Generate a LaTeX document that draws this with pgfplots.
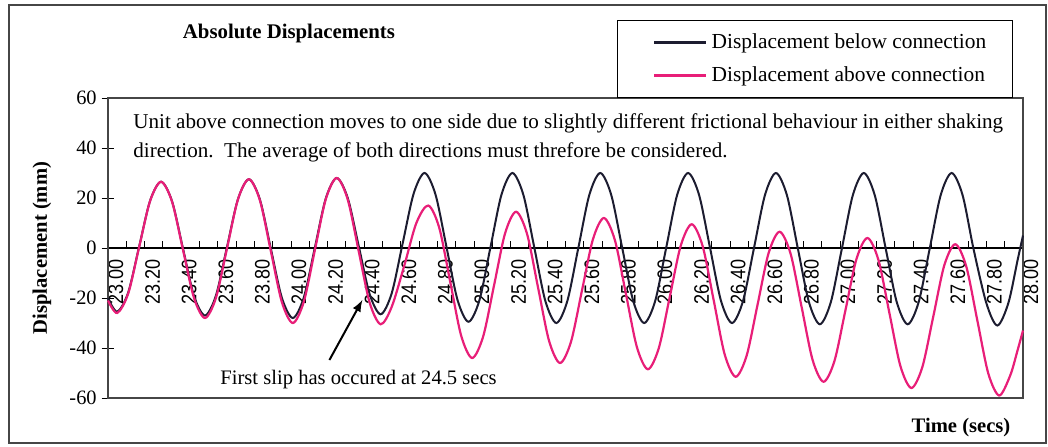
\documentclass[border=0pt]{standalone}
\usepackage{fontspec}
\setmainfont{Liberation Serif}
\newfontfamily\narrowsans[FakeStretch=0.86]{Liberation Sans}
\usepackage{pgfplots}
\pgfplotsset{compat=1.18}
\definecolor{belowc}{RGB}{28,28,48}
\definecolor{abovec}{RGB}{232,30,120}
\definecolor{framec}{RGB}{70,70,70}

\begin{document}
\begin{tikzpicture}
\useasboundingbox (-54pt,-24pt) rectangle (470pt,199pt);
\draw[framec, line width=0.7pt] (-49.5pt,-22.5pt) rectangle (469pt,196.5pt);
\begin{axis}[
  at={(0,0)}, anchor=south west,
  scale only axis, width=457.5pt, height=150pt,
  xmin=23, xmax=28, ymin=-60, ymax=60,
  axis x line=middle, axis y line=left,
  hide obscured x ticks=false,
  axis line style={-, black, line width=0.6pt},
  xtick={23,23.2,...,28.1},
  minor xtick={23.1,23.3,...,28},
  xtick style={black, line width=0.5pt, yshift=1.75pt,
    /pgfplots/major tick length=3.5pt, /pgfplots/minor tick length=3.5pt},
  xticklabel style={rotate=90, anchor=east, font=\narrowsans\fontsize{10.5}{12}\selectfont, yshift=-4pt,
    /pgf/number format/.cd, fixed, fixed zerofill, precision=2},
  ytick={-60,-40,...,60},
  ytick style={black, line width=0.5pt, /pgfplots/major tick length=6.5pt},
  yticklabel style={font=\fontsize{10.2}{12}\selectfont},
  y tick label style={/pgf/number format/assume math mode=true},
  x tick label style={/pgf/number format/assume math mode=true},
  tick align=center,
  clip=false,
  legend style={at={(axis description cs:0.556,1.26)}, anchor=north west,
    draw=black, line width=0.6pt, font=\fontsize{10.7}{12}\selectfont,
    inner xsep=11pt, inner ysep=4.5pt, row sep=3.5pt, cells={anchor=west}},
  legend image code/.code={\path (0pt,0pt); \draw[#1, line width=1.2pt] (7pt,0pt) -- (33pt,0pt);},
]
\draw[framec, line width=0.7pt] (rel axis cs:0,0) rectangle (rel axis cs:1,1);

% displacement measured below the connection
\addplot[belowc, line width=1pt, smooth] coordinates {
(23.00,-20) (23.05,-25.5) (23.11,-17.9) (23.17,0.5) (23.23,18.9) (23.29,26.5)
(23.35,18.7) (23.41,-0.3) (23.47,-19.2) (23.53,-27) (23.59,-19.0) (23.65,0.3)
(23.71,19.5) (23.77,27.5) (23.83,19.4) (23.89,-0.3) (23.95,-19.9) (24.01,-28)
(24.07,-19.8) (24.13,0) (24.19,19.8) (24.25,28) (24.31,20.0) (24.37,0.8)
(24.43,-18.5) (24.49,-26.5) (24.55,-18.2) (24.61,1.8) (24.67,21.7) (24.73,30)
(24.79,21.3) (24.85,0.3) (24.91,-20.8) (24.97,-29.5) (25.03,-20.8) (25.09,0.3)
(25.15,21.3) (25.21,30) (25.27,21.2) (25.33,0) (25.39,-21.2) (25.45,-30)
(25.51,-21.2) (25.57,0) (25.63,21.2) (25.69,30) (25.75,21.2) (25.81,0)
(25.87,-21.2) (25.93,-30) (25.99,-21.2) (26.05,0) (26.11,21.2) (26.17,30)
(26.23,21.2) (26.29,0) (26.35,-21.2) (26.41,-30) (26.47,-21.2) (26.53,0)
(26.59,21.2) (26.65,30) (26.71,21.1) (26.77,-0.3) (26.83,-21.6) (26.89,-30.5)
(26.95,-21.6) (27.01,-0.3) (27.07,21.1) (27.13,30) (27.19,21.1) (27.25,-0.3)
(27.31,-21.6) (27.37,-30.5) (27.43,-21.6) (27.49,-0.3) (27.55,21.1) (27.61,30)
(27.67,21.1) (27.73,-0.5) (27.80,-22.1) (27.86,-31) (27.92,-22) (27.97,-5)
(28.00,5)
};
\addlegendentry{Displacement below connection}

% displacement measured above the connection
\addplot[abovec, line width=1.1pt, smooth] coordinates {
(23.00,-21) (23.05,-26) (23.11,-18.3) (23.17,0.3) (23.23,18.8) (23.29,26.5)
(23.35,18.5) (23.41,-0.8) (23.47,-20.0) (23.53,-28) (23.59,-19.9) (23.65,-0.3)
(23.71,19.4) (23.77,27.5) (23.83,19.1) (23.89,-1.3) (23.95,-21.6) (24.01,-30)
(24.07,-21.5) (24.13,-1) (24.19,19.5) (24.25,28) (24.31,19.4) (24.37,-1.3)
(24.43,-21.9) (24.49,-30.5) (24.55,-23.6) (24.62,-6.8) (24.685,10.0) (24.75,17)
(24.81,8.1) (24.87,-13.5) (24.93,-35.1) (24.99,-44) (25.05,-35.4) (25.11,-14.8)
(25.17,5.9) (25.23,14.5) (25.29,5.6) (25.35,-15.8) (25.41,-37.1) (25.47,-46)
(25.53,-37.5) (25.59,-17) (25.65,3.5) (25.71,12) (25.77,3.1) (25.83,-18.3)
(25.89,-39.6) (25.95,-48.5) (26.01,-40) (26.07,-19.5) (26.13,1) (26.19,9.5)
(26.25,0.6) (26.31,-21) (26.37,-42.6) (26.43,-51.5) (26.49,-43) (26.55,-22.5)
(26.61,-2) (26.67,6.5) (26.73,-2.3) (26.79,-23.5) (26.85,-44.7) (26.91,-53.5)
(26.97,-45.1) (27.03,-24.8) (27.09,-4.4) (27.15,4) (27.21,-4.8) (27.27,-26)
(27.33,-47.2) (27.39,-56) (27.45,-47.6) (27.51,-27.3) (27.57,-6.9) (27.63,1.5)
(27.69,-7.4) (27.75,-28.8) (27.81,-50.1) (27.87,-59) (27.93,-51) (27.97,-41)
(28.00,-33)
};
\addlegendentry{Displacement above connection}

\draw[-latex, black, line width=1pt] (axis cs:24.21,-44.8) -- (axis cs:24.39,-20.8);
\end{axis}

\node[font=\bfseries\fontsize{10.4}{12}\selectfont] at (90.5pt,182.5pt) {Absolute Displacements};
\node[font=\fontsize{10.55}{12}\selectfont, anchor=base west, align=left, inner sep=0pt]
  at (12.5pt,120.5pt) {Unit above connection moves to one side due to slightly different frictional behaviour in either shaking\\[2.5pt]
  direction.\ \ The average of both directions must threfore be considered.};
\node[font=\fontsize{10.3}{12}\selectfont, anchor=base west, inner sep=0pt] at (56pt,7pt) {First slip has occured at 24.5 secs};
\node[font=\bfseries\fontsize{10.3}{12}\selectfont, rotate=90] at (-33pt,75pt) {Displacement (mm)};
\node[font=\bfseries\fontsize{10.3}{12}\selectfont] at (426.5pt,-15pt) {Time (secs)};
\end{tikzpicture}
\end{document}
